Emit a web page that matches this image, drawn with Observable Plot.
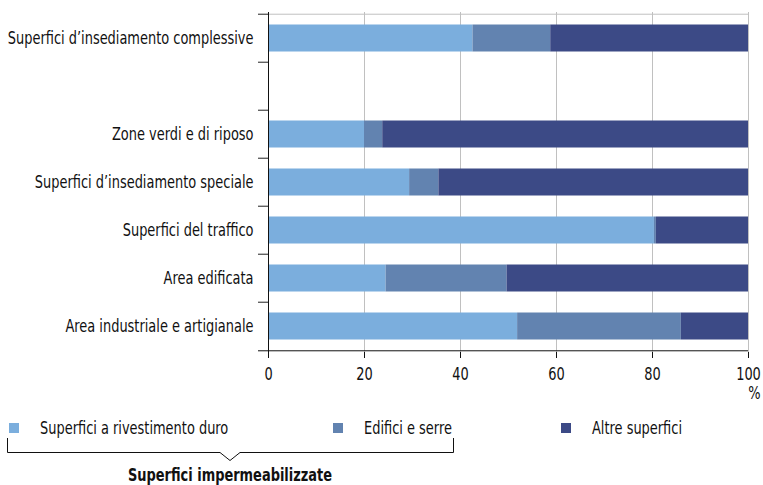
<!DOCTYPE html>
<html>
<head>
<meta charset="utf-8">
<script src="https://cdn.jsdelivr.net/npm/d3@7"></script>
<script src="https://cdn.jsdelivr.net/npm/@observablehq/plot@0.6"></script>
<style>
  html, body { margin: 0; padding: 0; background: #fff; }
  body { width: 763px; height: 485px; overflow: hidden; }
  .font { font-family: "DejaVu Sans Condensed", "Liberation Sans Narrow", sans-serif; }
</style>
</head>
<body>
<div id="chart"></div>
<script>
// ---- data ----
const categories = [
  "Superfici d’insediamento complessive",
  "",
  "Zone verdi e di riposo",
  "Superfici d’insediamento speciale",
  "Superfici del traffico",
  "Area edificata",
  "Area industriale e artigianale"
];
const barCategories = [
  "Superfici d’insediamento complessive",
  "Zone verdi e di riposo",
  "Superfici d’insediamento speciale",
  "Superfici del traffico",
  "Area edificata",
  "Area industriale e artigianale"
];
const series = ["Superfici a rivestimento duro", "Edifici e serre", "Altre superfici"];
const valuesDuro    = [42.6, 20.0, 29.4, 80.4, 24.5, 51.9];
const valuesEdifici = [16.2,  3.8,  6.1,  0.4, 25.2, 34.1];
const valuesAltre   = [41.2, 76.2, 64.5, 19.2, 50.3, 14.0];
const xTicks = [0, 20, 40, 60, 80, 100];
const colors = ["#7baedd", "#6283b0", "#3c4a86"];
const groupLabel = "Superfici impermeabilizzate";
const unitLabel = "%";

// ---- build table ----
const seriesValues = [valuesDuro, valuesEdifici, valuesAltre];
const data = [];
barCategories.forEach((c, i) => {
  series.forEach((s, j) => data.push({category: c, series: s, value: seriesValues[j][i]}));
});

const W = 763, H = 405;
const mT = 12, mB = 53, mL = 268, mR = 15;
const step = (H - mT - mB) / categories.length;
const tickLen = 10 / ((W - mL - mR) / 100); // 10px in x units
const fontSize = 18;
const squeeze = 0.8; // condensed look

const plot = Plot.plot({
  width: W, height: H,
  marginTop: mT, marginBottom: mB, marginLeft: mL, marginRight: mR,
  style: {fontSize: fontSize + "px", fontFamily: '"DejaVu Sans Condensed", "Liberation Sans Narrow", sans-serif', color: "#111", background: "#fff"},
  x: {domain: [0, 100]},
  y: {domain: categories, padding: 0},
  color: {domain: series, range: colors},
  marks: [
    Plot.ruleX(xTicks.slice(1), {stroke: "#c0c0c0", strokeWidth: 1, strokeOpacity: 1}),
    Plot.ruleY([categories[0]], {y: d => d, dy: -step / 2, x1: 0, x2: 100, stroke: "#c0c0c0"}),
    Plot.barX(data, {y: "category", x: "value", fill: "series", insetTop: 10.5, insetBottom: 10.5}),
    Plot.ruleX([0], {stroke: "#111"}),
    Plot.ruleY(categories, {y: d => d, dy: -step / 2, x1: -tickLen, x2: 0, stroke: "#222"}),
    Plot.ruleY([categories[categories.length - 1]], {y: d => d, dy: step / 2, x1: -tickLen, x2: 100, stroke: "#111"}),
    Plot.axisY({tickSize: 0, tickPadding: 15, label: null}),
    Plot.axisX({ticks: xTicks, tickSize: 6, tickPadding: 9, label: null, stroke: "#111"}),
    Plot.text([unitLabel], {x: 100, frameAnchor: "bottom", dy: 46, dx: 12, textAnchor: "end", fontSize: fontSize})
  ]
});
document.getElementById("chart").appendChild(plot);

// ---- legend below the chart ----
const legend = d3.select("#chart").append("svg")
  .attr("width", W).attr("height", 485 - H)
  .attr("class", "font")
  .style("display", "block")
  .style("font-size", fontSize + "px");
const itemX = [9, 333, 561];
series.forEach((s, j) => {
  legend.append("rect").attr("x", itemX[j]).attr("y", 18).attr("width", 10).attr("height", 10).attr("fill", colors[j]);
  legend.append("text").attr("x", itemX[j] + 31).attr("y", 23).attr("dy", "0.35em").attr("fill", "#111").text(s);
});
// bracket
legend.append("path")
  .attr("d", "M7.5,33 V47.5 H220 L230,55.5 L240,47.5 H453.5 V33")
  .attr("fill", "none").attr("stroke", "#111").attr("stroke-width", 1);
legend.append("text").attr("x", 230).attr("y", 76).attr("text-anchor", "middle")
  .attr("font-weight", "bold").attr("fill", "#111").text(groupLabel);

// condense every text horizontally
document.querySelectorAll("#chart text").forEach(t => {
  const L = t.getComputedTextLength();
  if (L > 0) {
    t.setAttribute("textLength", L * squeeze);
    t.setAttribute("lengthAdjust", "spacingAndGlyphs");
  }
});
</script>
</body>
</html>
